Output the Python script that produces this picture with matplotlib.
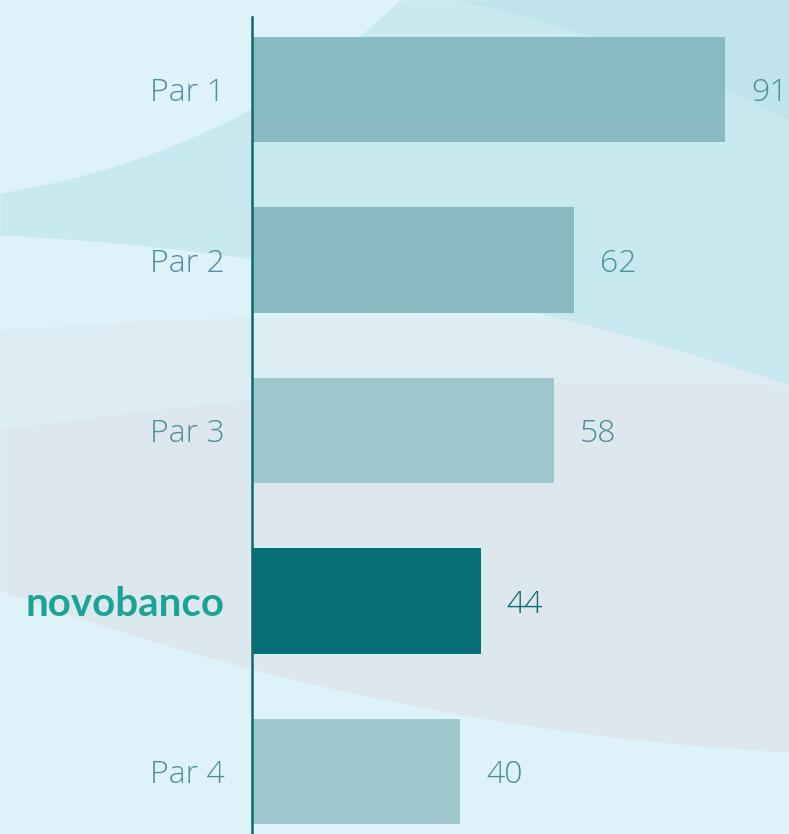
import numpy as np
import matplotlib.pyplot as plt

# data
categories = ["Par 1", "Par 2", "Par 3", "novobanco", "Par 4"]
values = [91, 62, 58, 44, 40]
bar_colors = ["#89b9c3", "#8bbac3", "#a0c6ce", "#066f75", "#a1c7cf"]
label_colors = ["#4d8f9b", "#4d8f9b", "#4d8f9b", "#1aa396", "#4d8f9b"]
value_colors = ["#4d8f9b", "#4d8f9b", "#4d8f9b", "#0b6a70", "#4d8f9b"]

W, H = 789, 834
fig = plt.figure(figsize=(W / 100, H / 100), dpi=100)
fig.patch.set_facecolor("#ddf3f9")

# decorative background swooshes (pixel coords)
bg = fig.add_axes([0, 0, 1, 1], zorder=0)
bg.set_xlim(0, W)
bg.set_ylim(H, 0)
bg.axis("off")
xs = np.linspace(0, W, 300)


def bez(p0, p1, p2):
    t = np.linspace(0, 1, 300)
    bx = (1 - t) ** 2 * p0[0] + 2 * (1 - t) * t * p1[0] + t ** 2 * p2[0]
    by = (1 - t) ** 2 * p0[1] + 2 * (1 - t) * t * p1[1] + t ** 2 * p2[1]
    return np.interp(xs, bx, by)


# grey lower band
grey_top = bez((0, 430), (400, 370), (789, 385))
grey_bot = bez((0, 590), (380, 730), (789, 752))
bg.fill_between(xs, grey_top, grey_bot, color="#dce8ee", lw=0)
bg.fill_between(xs, bez((0, 330), (400, 300), (789, 330)), grey_top, color="#dce8ee", alpha=0.4, lw=0)
# cyan band
band_top = np.maximum(bez((0, 193), (260, 150), (430, -30)), 0)
band_bot = bez((0, 235), (400, 255), (789, 385))
bg.fill_between(xs, band_top, band_bot, color="#c9e9f0", lw=0)
# darker top-right corner
corner_bot = np.maximum(bez((430, -5), (620, 30), (789, 120)), 0)
bg.fill_between(xs, np.zeros_like(xs), corner_bot, color="#bde3ec", alpha=0.8, lw=0)

# main chart
ax = fig.add_axes([252 / W, 0, 520 / W, 817 / H], zorder=1)
ax.patch.set_alpha(0)
y = np.arange(len(categories))
ax.barh(y, values, height=0.62, color=bar_colors, zorder=2)
ax.set_xlim(0, 100)
ax.set_ylim(4.367, -0.425)

for s in ["top", "right", "bottom"]:
    ax.spines[s].set_visible(False)
ax.spines["left"].set_color("#0b6a70")
ax.spines["left"].set_linewidth(1.8)
ax.spines["left"].set_zorder(3)
ax.set_xticks([])
ax.set_yticks([])

for i, (cat, v) in enumerate(zip(categories, values)):
    if cat == "novobanco":
        ax.text(-5.3, i, cat, ha="right", va="center_baseline", fontsize=29, fontweight="bold",
                family="Lato", color=label_colors[i])
    else:
        ax.text(-5.3, i, cat, ha="right", va="center_baseline", fontsize=23, fontweight=300,
                family="Open Sans", color=label_colors[i])
    ax.text(v + 5.0, i, str(v), ha="left", va="center_baseline", fontsize=23, fontweight=300,
            family="Open Sans", color=value_colors[i], clip_on=False)

fig.savefig("out.png", dpi=100, facecolor=fig.get_facecolor())
